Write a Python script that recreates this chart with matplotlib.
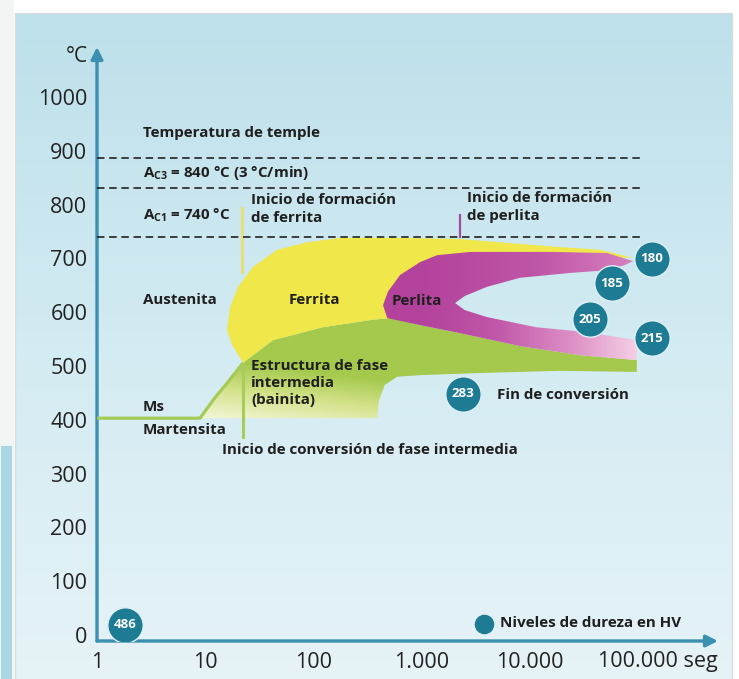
import numpy as np
import matplotlib
matplotlib.use('Agg')
import matplotlib.pyplot as plt
from matplotlib.patches import Polygon, Rectangle
from matplotlib.colors import LinearSegmentedColormap

plt.rcParams['font.family'] = ['Open Sans', 'DejaVu Sans']
plt.rcParams['mathtext.fontset'] = 'custom'
plt.rcParams['mathtext.rm'] = 'Open Sans:bold'

# ---- datos (tiempo en s, temperatura en C) ----
x_ticks = [1, 10, 100, 1000, 10000, 100000]
x_labels = ['1', '10', '100', '1.000', '10.000', '']
y_ticks = [0, 100, 200, 300, 400, 500, 600, 700, 800, 900, 1000]

temple_T = 887
ac3_T = 831
ac1_T = 740
lines_end_t = 109000

ferrite_t = [22.4, 17.7, 15.9, 17.0, 20.1, 27.6, 46, 88, 176, 631, 2265, 8120, 19000,
             44600, 89900, 33600, 8120, 1830, 966, 566, 457, 511, 353, 122, 42.3]
ferrite_T = [506, 539, 567, 610, 647, 684, 716, 730, 738, 738, 736, 727, 721,
             716, 701, 704, 704, 693, 675, 641, 604, 589, 586, 572, 548]

perlite_t = [89900, 51800, 16400, 2810, 1390, 966, 631, 488, 440, 482, 966, 2265, 8120,
             29100, 97500, 97500, 33600, 11500, 4000, 2500, 2040, 2500, 4000, 8120,
             23700, 51800, 76400]
perlite_T = [695, 710, 712, 712, 706, 693, 669, 638, 613, 589, 576, 561, 537,
             520, 511, 548, 563, 572, 591, 604, 617, 630, 647, 664,
             673, 678, 688]

bainite_t = [8.95, 12.3, 15.9, 22.4, 42.3, 122, 353, 511, 966, 2265, 8120, 29100, 97500,
             97500, 19000, 3466, 966, 594, 457, 405, 387]
bainite_T = [403, 441, 468, 506, 548, 572, 586, 589, 576, 561, 537, 520, 511,
             489, 491, 487, 483, 480, 465, 437, 403]

ms_t = [1, 8.95, 12.3, 15.9, 22.4]
ms_T = [403, 403, 441, 468, 506]

hv_values = [180, 185, 205, 215, 283, 486]
hv_t = [135000, 57500, 36000, 135000, 2415, 1.81]
hv_T = [699, 654, 587, 552, 448, 19]

W, H = 739, 679
fig = plt.figure(figsize=(W / 100, H / 100), dpi=100)
fig.patch.set_facecolor('white')

# fondo del panel (pixeles)
bg = fig.add_axes([0, 0, 1, 1])
bg.set_xlim(0, W)
bg.set_ylim(H, 0)
bg.axis('off')
bg_cmap = LinearSegmentedColormap.from_list('bg', ['#bde0ea', '#d3ebf2', '#e6f3f7'])
grad = np.linspace(0, 1, 256).reshape(-1, 1)
bg.imshow(grad, extent=[15, 732, 679, 13], cmap=bg_cmap, aspect='auto', origin='upper')
bg.add_patch(Rectangle((15, 13), 717, 670, fill=False, ec='#d8dcdc', lw=1))
bg.add_patch(Rectangle((0, 0), 14, 445, fc='#f3f5f5', ec='none'))
bg.add_patch(Rectangle((0, 445), 13, 240, fc='#a9d6e3', ec='#eef5f7', lw=1.5))
bg.set_xlim(0, W)
bg.set_ylim(H, 0)

# ejes principales
ax_l, ax_r, ax_t, ax_b = 97, 718, 47, 641
ax = fig.add_axes([ax_l / W, 1 - ax_b / H, (ax_r - ax_l) / W, (ax_b - ax_t) / H])
ax.patch.set_alpha(0)
ax.set_xscale('log')
ax.set_xlim(1, 10 ** ((ax_r - ax_l) / 108.2))
ax.set_ylim((635 - ax_b) / 0.538, (635 - ax_t) / 0.538)
ax.set_autoscale_on(False)
for s in ax.spines.values():
    s.set_visible(False)

ax.set_xticks(x_ticks)
ax.set_xticklabels(x_labels)
ax.minorticks_off()
ax.set_yticks(y_ticks)
ax.tick_params(length=0, labelsize=15.5, labelcolor='#222222')
ax.tick_params(axis='y', pad=7)
ax.tick_params(axis='x', pad=8)

axis_col = '#3b8fb0'
ax.annotate('', xy=(0, 1), xytext=(0, 0), xycoords='axes fraction',
            arrowprops=dict(arrowstyle='-|>,head_width=0.35,head_length=0.7',
                            color=axis_col, lw=2.4, shrinkA=0, shrinkB=0))
ax.annotate('', xy=(1, 0), xytext=(0, 0), xycoords='axes fraction',
            arrowprops=dict(arrowstyle='-|>,head_width=0.35,head_length=0.7',
                            color=axis_col, lw=2.4, shrinkA=0, shrinkB=0))
fig.text(88 / W, 1 - 57 / H, '°C', ha='right', va='center', fontsize=15, color='#222222')
fig.text(598 / W, 1 - 662 / H, '100.000 seg', ha='left', va='center', fontsize=15.5, color='#222222')

# mallas para degradados en coordenadas de ejes
n = 300
xf, yf = np.meshgrid(np.linspace(0, 1, n), np.linspace(0, 1, n))
y0, y1 = ax.get_ylim()
TT = y0 + yf * (y1 - y0)


def grad_fill(t, T, img, cmap, z):
    poly = Polygon(np.column_stack([t, T]), closed=True, fc='none', ec='none', zorder=z)
    ax.add_patch(poly)
    im = ax.imshow(img, extent=[0, 1, 0, 1], transform=ax.transAxes, cmap=cmap,
                   vmin=0, vmax=1, aspect='auto', origin='lower', zorder=z,
                   interpolation='bilinear')
    im.set_clip_path(poly)


# bainita (verde)
green_cmap = LinearSegmentedColormap.from_list('g', ['#f1f3cf', '#d4e28a', '#a4c94c'])
g_img = np.clip((TT - 405) / 105 + (xf - 0.2) * 1.3, 0, 1)
grad_fill(bainite_t, bainite_T, g_img, green_cmap, 2)

# ferrita (amarillo)
ax.add_patch(Polygon(np.column_stack([ferrite_t, ferrite_T]), closed=True,
                     fc='#f0e84a', ec='none', zorder=3))

# perlita (magenta)
pink_cmap = LinearSegmentedColormap.from_list('p', ['#b3429c', '#c056a8', '#dc8cc4', '#f6d4e7'])
fade = 0.62 + 0.38 * np.clip((640 - TT) / 60, 0, 1)
p_img = np.clip((xf - 0.52) / 0.36, 0, 1) * fade
grad_fill(perlite_t, perlite_T, p_img, pink_cmap, 4)

# linea Ms
ax.plot(ms_t, ms_T, color='#a3cb55', lw=2.3, zorder=5, solid_capstyle='butt')

# marcadores de inicio
ax.plot([21.8, 21.8], [794, 675], color='#e6df7c', lw=2.2, zorder=5)
ax.plot([2265, 2265], [781, 740], color='#a04c9c', lw=1.6, zorder=5)
ax.plot([22.4, 22.4], [500, 368], color='#a6cc5a', lw=2.2, zorder=5)

# lineas discontinuas
for T in (temple_T, ac3_T, ac1_T):
    ax.plot([1, lines_end_t], [T, T], color='#222222', lw=1.2, dashes=(4.5, 2.8), zorder=6)

# textos
tc = '#1f1f1f'
kw = dict(fontsize=10.9, fontweight='bold', color=tc, va='center', zorder=8)
ax.text(2.66, 933, 'Temperatura de temple', ha='left', **kw)
ax.text(2.66, 859, r'A$_{\mathrm{C3}}$ = 840 °C (3 °C/min)', ha='left', **kw)
ax.text(2.66, 781, r'A$_{\mathrm{C1}}$ = 740 °C', ha='left', **kw)
ax.text(26.5, 809, 'Inicio de formación', ha='left', **kw)
ax.text(26.5, 775, 'de ferrita', ha='left', **kw)
ax.text(2630, 812, 'Inicio de formación', ha='left', **kw)
ax.text(2630, 779, 'de perlita', ha='left', **kw)
ax.text(2.66, 623, 'Austenita', ha='left', **kw)
ax.text(103, 623, 'Ferrita', ha='center', **kw)
ax.text(906, 621, 'Perlita', ha='center', **kw)
ax.text(26.5, 500, 'Estructura de fase', ha='left', **kw)
ax.text(26.5, 468, 'intermedia', ha='left', **kw)
ax.text(26.5, 437, '(bainita)', ha='left', **kw)
ax.text(2.66, 424, 'Ms', ha='left', **kw)
ax.text(2.66, 381, 'Martensita', ha='left', **kw)
ax.text(14.3, 344, 'Inicio de conversión de fase intermedia', ha='left', **kw)
ax.text(4980, 446, 'Fin de conversión', ha='left', **kw)
ax.text(5308, 22, 'Niveles de dureza en HV', ha='left', **kw)

# niveles de dureza
ax.scatter(hv_t, hv_T, s=650, color='#1d7b94', edgecolors='#dff0f5', linewidths=1.0, zorder=9)
for v, t, T in zip(hv_values, hv_t, hv_T):
    ax.text(t, T, str(v), ha='center', va='center', color='white', fontsize=9.5,
            fontweight='bold', zorder=10)
ax.scatter([3775], [20], s=170, color='#1d7b94', zorder=9)

fig.savefig('out.png', dpi=100)
